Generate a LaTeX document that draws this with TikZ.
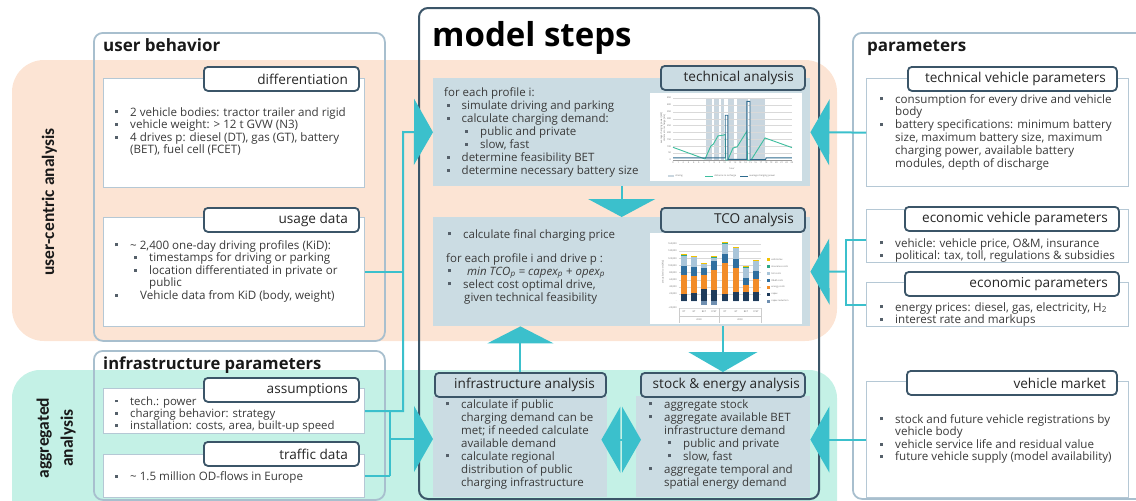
\documentclass[tikz,border=0pt]{standalone}
\usepackage{fontspec}
\setmainfont{Open Sans}
\newfontfamily\sidefont{Carlito}
\usetikzlibrary{arrows.meta}

\definecolor{peach}{HTML}{FCE4D4}
\definecolor{mint}{HTML}{C4F1E6}
\definecolor{cyanc}{HTML}{3BC0CC}
\definecolor{slate}{HTML}{3B5568}
\definecolor{outerc}{HTML}{A8BFCE}
\definecolor{innerc}{HTML}{B5C8D5}
\definecolor{boxfill}{HTML}{CBDCE3}
\definecolor{txtc}{HTML}{3A3A3A}
\definecolor{bulc}{HTML}{55606A}
\definecolor{bandc}{HTML}{C9D6DF}
\definecolor{greenl}{HTML}{3DBE9E}
\definecolor{bluel}{HTML}{2D6A8E}
\definecolor{cCap}{HTML}{1F3B5A}
\definecolor{cEn}{HTML}{F28C28}
\definecolor{cOM}{HTML}{2F6F9F}
\definecolor{cToll}{HTML}{A9C5D9}
\definecolor{cIns}{HTML}{2EA887}
\definecolor{cTax}{HTML}{F2C200}
\definecolor{cRed}{HTML}{6F8FB0}

% square bullet, hanging indent, a top-aligned block of lines, right-set tab label
\newcommand\bul[1][15pt]{\makebox[#1][l]{\textcolor{bulc}{\rule[0.22em]{0.26em}{0.26em}}}}
\newcommand\cind[1][15pt]{\hspace*{#1}}
\newcommand\blk[1]{\begin{tabular}[t]{@{}l@{}}#1\end{tabular}}
\newcommand\tabtxt[2]{\makebox[#1][r]{#2}}

\begin{document}
\begin{tikzpicture}[x=1pt, y=-1pt,
  obox/.style={draw=outerc, line width=1.8pt, rounded corners=9pt, inner sep=0pt, anchor=north west},
  cbox/.style={draw=innerc, line width=1.2pt, fill=white, inner sep=0pt, anchor=north west},
  mbox/.style={fill=boxfill, inner sep=0pt, anchor=north west},
  tab/.style={draw=slate, line width=1.8pt, rounded corners=4pt, fill=white, inner xsep=11pt, inner ysep=0pt,
    minimum height=24pt, anchor=north west, font=\fontsize{13.6}{16}\selectfont, text=black!85},
  mtab/.style={tab, fill=boxfill},
  ttl/.style={inner sep=0pt, anchor=base west, font=\fontsize{17}{20}\selectfont\bfseries, text=black!90},
  side/.style={inner sep=0pt, rotate=90, font=\sidefont\fontsize{17.5}{24}\selectfont\bfseries, text=black!90},
  txt/.style={inner sep=0pt, anchor=base west, text=txtc},
  tL/.style={txt, font=\fontsize{11.6}{12.5}\selectfont},
  tM/.style={txt, font=\fontsize{11.5}{13.1}\selectfont},
  tR/.style={txt, font=\fontsize{11.6}{12.6}\selectfont},
  conn/.style={draw=cyanc, line width=2pt},
  tip/.style={-{Triangle[length=19pt,width=66pt]}},
  dtip/.style={{Triangle[length=19pt,width=66pt]}-{Triangle[length=19pt,width=66pt]}},
  tiny/.style={inner sep=0.2pt, font=\fontsize{2.3}{2.8}\selectfont, text=black!60},
  grid/.style={draw=black!15, line width=0.3pt}
]
\useasboundingbox (0,0) rectangle (1136,501);
\clip (0,0) rectangle (1136,501);

% ---- analysis bands ----
\fill[peach, rounded corners=32pt] (12,60) rectangle (837,341);
\fill[mint, rounded corners=28pt] (12,370) rectangle (837,540);

\node[side, anchor=base] (uc) at (54,202) {user-centric analysis};
\node[side, align=center] (ag) at (56,438) {aggregated\\analysis};

% ---- outer frames ----
\node[obox, minimum width=291pt, minimum height=308pt] (ub) at (93,32) {};
\node[obox, minimum width=291pt, minimum height=149pt] (ip) at (93,350) {};
\node[obox, minimum width=320pt, minimum height=466pt] (par) at (852,32) {};
\node[obox, draw=slate, line width=2pt, minimum width=400pt, minimum height=491pt] (ms) at (418,7) {};

\node[ttl] (ub-t) at (103,51) {user behavior};
\node[ttl, font=\fontsize{16.6}{20}\selectfont\bfseries] (ip-t) at (103,369) {infrastructure parameters};
\node[ttl] (par-t) at (867,51) {parameters};
\node[ttl, font=\fontsize{33}{40}\selectfont\bfseries, text=black] (ms-t) at (432,46) {model steps};

% ---- user behavior ----
\node[cbox, minimum width=261pt, minimum height=109pt] (diff) at (103,78) {};
\node[tL] (diff-x) at (115,116) {\blk{\bul 2 vehicle bodies: tractor trailer and rigid\\
  \bul vehicle weight: > 12 t GVW (N3)\\
  \bul 4 drives p: diesel (DT), gas (GT), battery\\
  \cind (BET), fuel cell (FCET)}};
\node[tab] (diff-h) at (203,66) {\tabtxt{133pt}{differentiation}};

\node[cbox, minimum width=261pt, minimum height=109pt] (usage) at (103,217) {};
\node[tL] (usage-x) at (115,249) {\blk{\bul \textasciitilde{} 2,400 one-day driving profiles (KiD):\\
  \cind[19pt]\bul timestamps for driving or parking\\
  \cind[19pt]\bul location differentiated in private or\\
  \cind[34pt]public\\
  \bul\cind[10pt]Vehicle data from KiD (body, weight)}};
\node[tab] (usage-h) at (203,207) {\tabtxt{133pt}{usage data}};

% ---- infrastructure parameters ----
\node[cbox, minimum width=261pt, minimum height=45pt] (assump) at (103,388) {};
\node[tL, font=\fontsize{11.4}{12.3}\selectfont] (assump-x) at (115,405) {\blk{\bul tech.: power\\
  \bul charging behavior: strategy\\
  \bul installation: costs, area, built-up speed}};
\node[tab] (assump-h) at (203,377) {\tabtxt{133pt}{assumptions}};

\node[cbox, minimum width=261pt, minimum height=43pt] (traffic) at (103,454) {};
\node[tL] (traffic-x) at (115,480.5) {\bul \textasciitilde{} 1.5 million OD-flows in Europe};
\node[tab] (traffic-h) at (203,441) {\tabtxt{133pt}{traffic data}};

% ---- parameters ----
\node[cbox, minimum width=262pt, minimum height=108pt] (techpar) at (866,78) {};
\node[tR, font=\fontsize{11.6}{12.8}\selectfont] (techpar-x) at (880,103) {\blk{\bul consumption for every drive and vehicle\\
  \cind body\\
  \bul battery specifications: minimum battery\\
  \cind size, maximum battery size, maximum\\
  \cind charging power, available battery\\
  \cind modules, depth of discharge}};
\node[tab] (techpar-h) at (907,66) {\tabtxt{187pt}{technical vehicle parameters}};

\node[cbox, minimum width=262pt, minimum height=53pt] (econveh) at (866,209) {};
\node[tR, font=\fontsize{11.6}{12}\selectfont] (econveh-x) at (880,247) {\blk{\bul vehicle: vehicle price, O\&M, insurance\\
  \bul political: tax, toll, regulations \& subsidies}};
\node[tab] (econveh-h) at (904,206) {\tabtxt{192pt}{economic vehicle parameters}};

\node[cbox, minimum width=262pt, minimum height=44pt] (econpar) at (866,282) {};
\node[tR, font=\fontsize{11.6}{12}\selectfont] (econpar-x) at (880,311) {\blk{\bul energy prices: diesel, gas, electricity, H\textsubscript{2}\\
  \bul interest rate and markups}};
\node[tab] (econpar-h) at (904,271) {\tabtxt{192pt}{economic parameters}};

\node[cbox, minimum width=262pt, minimum height=116pt] (market) at (866,381) {};
\node[tR, font=\fontsize{11.6}{12.4}\selectfont] (market-x) at (880,423) {\blk{\bul stock and future vehicle registrations by\\
  \cind vehicle body\\
  \bul vehicle service life and residual value\\
  \bul future vehicle supply (model availability)}};
\node[tab] (market-h) at (906,370) {\tabtxt{188pt}{vehicle market}};

% ---- model steps ----
\node[mbox, minimum width=377pt, minimum height=108pt] (tech) at (433,78) {};
\node[tM] (tech-x) at (444,96) {\blk{for each profile i:\\
  \cind[2.5pt]\bul simulate driving and parking\\
  \cind[2.5pt]\bul calculate charging demand:\\
  \cind[21pt]\bul public and private\\
  \cind[21pt]\bul slow, fast\\
  \cind[2.5pt]\bul determine feasibility BET\\
  \cind[2.5pt]\bul determine necessary battery size}};
\node[mtab] (tech-h) at (660,65) {\tabtxt{122pt}{technical analysis}};

\node[mbox, minimum width=377pt, minimum height=109pt] (tco) at (433,217) {};
\node[tM] (tco-x1) at (446,238) {\cind[2pt]\bul calculate final charging price};
\node[tM, font=\fontsize{11.5}{13}\selectfont] (tco-x2) at (446,262) {\blk{for each profile i and drive p :\\
  \cind[2pt]\bul\cind[4pt]\textit{min TCO\textsubscript{p} = capex\textsubscript{p} + opex\textsubscript{p}}\\
  \cind[2pt]\bul select cost optimal drive,\\
  \cind[18pt]given technical feasibility}};
\node[mtab] (tco-h) at (660,207) {\tabtxt{122pt}{TCO analysis}};

\node[mbox, minimum width=174pt, minimum height=101pt] (infra) at (433,396) {};
\node[tM, font=\fontsize{11.5}{13}\selectfont] (infra-x) at (446,408) {\blk{\bul calculate if public\\
  \cind charging demand can be\\
  \cind met; if needed calculate\\
  \cind available demand\\
  \bul calculate regional\\
  \cind distribution of public\\
  \cind charging infrastructure}};
\node[mtab] (infra-h) at (434,372) {\tabtxt{149pt}{infrastructure analysis}};

\node[mbox, minimum width=174pt, minimum height=101pt] (stock) at (636,396) {};
\node[tM, font=\fontsize{11.5}{13}\selectfont] (stock-x) at (649,408) {\blk{\bul aggregate stock\\
  \bul aggregate available BET\\
  \cind infrastructure demand\\
  \cind[19pt]\bul public and private\\
  \cind[19pt]\bul slow, fast\\
  \bul aggregate temporal and\\
  \cind spatial energy demand}};
\node[mtab, inner xsep=5pt] (stock-h) at (640,372) {\tabtxt{154pt}{stock \& energy analysis}};

% ---- charging profile chart ----
\node[fill=white, inner sep=0pt, anchor=north west, minimum width=152pt, minimum height=88pt] (ch1) at (650,93) {};
\begin{scope}[shift={(673,160)}, x=5.17pt, y=0.1378pt]
  \foreach \a/\b in {6.4/7.5, 7.9/8.9, 9.3/9.9, 10.6/11.8, 12.4/14.5, 14.9/17.8}
    \fill[bandc] (\a,0) rectangle (\b,450);
  \foreach \v in {50,100,...,450} \draw[grid] (0,\v) -- (23,\v);
  \draw[black!40, line width=0.3pt] (0,0) -- (23,0);
  \foreach \v in {0,50,...,450} \node[tiny, anchor=east] (c1y\v) at (-0.3,\v) {\v};
  \foreach \h in {0,...,23} \node[tiny, anchor=north] (c1x\h) at (\h,-10) {\h};
  \draw[greenl, line width=0.9pt] plot coordinates {(0,92) (6.2,7) (7.3,100) (7.8,115) (8.7,175) (9.7,180) (10.1,185) (10.2,0) (10.6,0) (11.6,87) (12.4,95) (14.3,210) (14.4,0) (15.1,0) (17.8,160) (23,90)};
  \draw[bluel, line width=0.9pt] plot coordinates {(0,15) (10.1,15) (10.1,325) (10.6,325) (10.6,5) (14.3,5) (14.3,425) (14.9,425) (14.9,3) (17.9,3) (18,15) (23,15)};
\end{scope}
\node[tiny, rotate=90, align=center] (c1yl) at (663,128) {average charging power [kW]\\distance to recharge [km]};
\node[tiny] (c1xl) at (732,169) {hour};
\fill[bandc] (668,174.5) rectangle (674,177);
\node[tiny, anchor=west] (c1l1) at (675,176) {driving};
\draw[greenl, line width=0.8pt] (705,176) -- (713,176);
\node[tiny, anchor=west] (c1l2) at (714,176) {distance to recharge};
\draw[bluel, line width=0.8pt] (740,176) -- (748,176);
\node[tiny, anchor=west] (c1l3) at (749,176) {average charging power};

% ---- cost chart ----
\node[fill=white, inner sep=0pt, anchor=north west, minimum width=152pt, minimum height=91pt] (ch2) at (650,233) {};
\begin{scope}[shift={(0,301)}, x=1pt, y=0.355pt]
  \foreach \v in {-20,20,40,...,160} \draw[grid] (679,\v) -- (761,\v);
  \foreach \v in {20,40,...,160} \node[tiny, anchor=east] (c2y\v) at (677,\v) {\v,000};
  \node[tiny, anchor=east] (c2y0) at (677,0) {-};
  \node[tiny, anchor=east] (c2ym) at (677,-20) {-20,000};
  \foreach \cx/\pa/\pb/\pc/\pd/\pe/\pf in {684/20/73/100/128/131/0, 694/23/70/95/123/126/0,
      704/34/73/93/103/106/-12, 714/30/87/112/122/125/-10, 725/21/107/131/161/164/0,
      736/24/94/119/149/152/0, 746/26/46/64/94/97/0, 756/24/62/84/112/115/0} {
    \fill[cCap] (\cx-2.6,0) rectangle (\cx+2.6,\pa);
    \fill[cEn] (\cx-2.6,\pa) rectangle (\cx+2.6,\pb);
    \fill[cOM] (\cx-2.6,\pb) rectangle (\cx+2.6,\pc);
    \fill[cToll] (\cx-2.6,\pc) rectangle (\cx+2.6,\pd);
    \fill[cIns] (\cx-2.6,\pd) rectangle (\cx+2.6,\pe);
    \fill[cTax] (\cx-2.6,\pe) rectangle (\cx+2.6,\pe+1.5);
    \fill[cRed] (\cx-2.6,0) rectangle (\cx+2.6,\pf);
  }
\end{scope}
\foreach \cx/\l in {684/DT, 694/GT, 704/BET, 714/FCET, 725/DT, 736/GT, 746/BET, 756/FCET}
  \node[tiny] (c2x\cx) at (\cx,312) {\l};
\node[tiny] (c2a) at (699,320) {2030};
\node[tiny] (c2b) at (740,320) {2050};
\draw[black!20, line width=0.3pt] (679,308) -- (679,323) (719.5,308) -- (719.5,323) (761,308) -- (761,323) (679,316) -- (761,316);
\node[tiny, rotate=90] (c2yl) at (663,272) {annualized costs [€/a]};
\foreach \c/\l [count=\k] in {cTax/vehicle tax, cIns/insurance costs, cToll/toll costs, cOM/O\&M costs,
    cEn/energy costs, cCap/capex, cRed/capex reduction} {
  \fill[\c] (767,251+7*\k) rectangle (769.5,253.5+7*\k);
  \node[tiny, anchor=west] (c2l\k) at (771,252.3+7*\k) {\l};
}

% ---- connectors ----
\coordinate (jA) at (403,132);
\coordinate (jB) at (390,439);
\coordinate (jC) at (846,271.5);
\draw[conn, tip] (assump.east) -- (assump.east -| jA) -- (jA) -- (tech.west);
\draw[conn] (usage.east) -- (usage.east -| jA);
\draw[conn] (assump.east -| jB) -- (traffic.east -| jB);
\draw[conn] (traffic.east) -- (traffic.east -| jB);
\draw[conn, tip] (jB) -- (jB -| infra.west);

\draw[conn, tip] (techpar.west) -- (tech.east);
\draw[conn] ([yshift=-3.5pt]econveh.west) -| (econpar.west -| jC) -- (econpar.west);
\draw[conn, tip] (jC) -- (tco.east);
\draw[conn, tip] (market.west) -- (market.west -| stock.east);

\draw[conn, -{Triangle[length=18pt,width=67pt]}] (tech.south) -- (tco.north);
\draw[conn, -{Triangle[length=17pt,width=66pt]}] (infra-h.north) -- (tco.south -| infra-h.north);
\draw[conn, -{Triangle[length=20pt,width=69pt]}] (tco.south -| stock-h.north) -- (stock-h.north);
\draw[conn, dtip] ([xshift=-6pt,yshift=7pt]infra.east) -- ([xshift=5pt,yshift=7pt]stock.west);
\end{tikzpicture}
\end{document}
